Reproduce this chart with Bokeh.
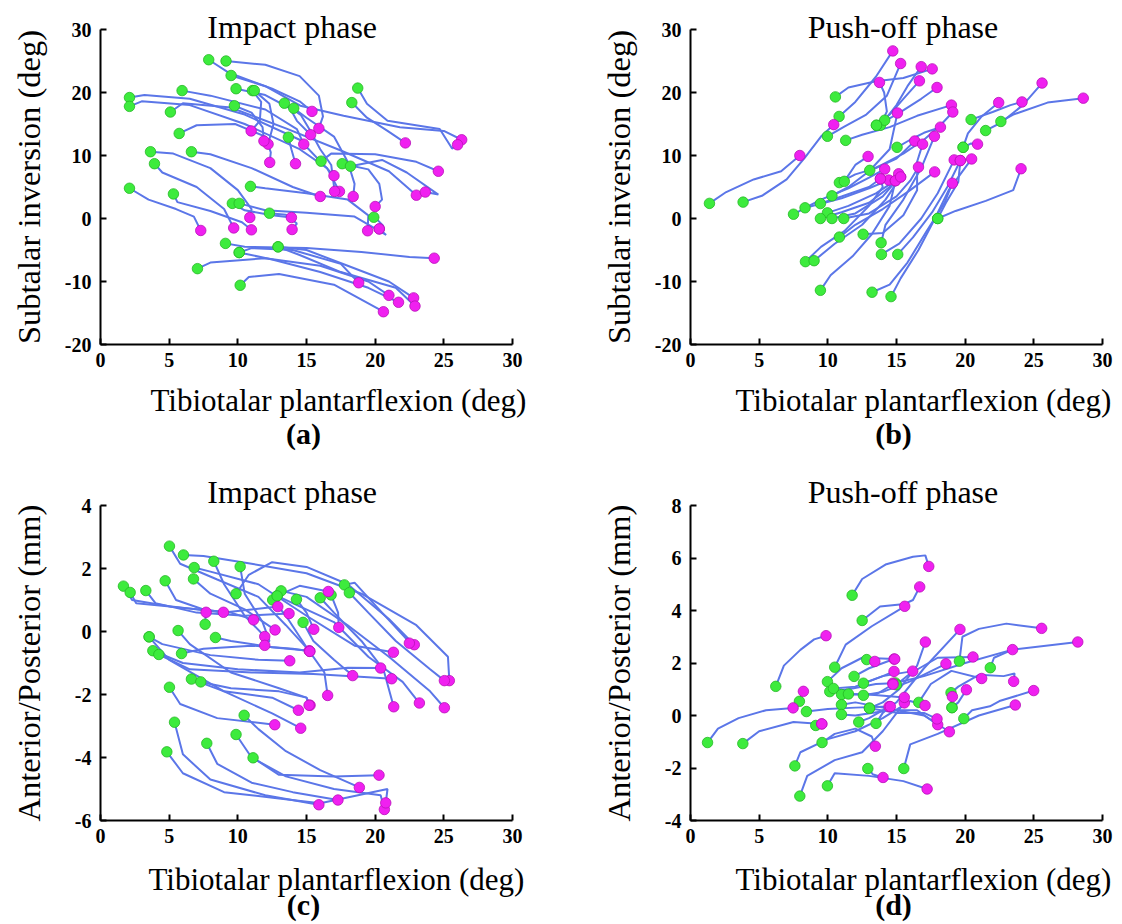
import math
from bokeh.plotting import figure
from bokeh.layouts import column, row
from bokeh.models import Label, FixedTicker, Range1d
from bokeh.embed import file_html
from bokeh.resources import INLINE

SERIF = "Liberation Serif"
LINE = "#5B76E8"
GREEN = "#3DEB3D"
GREEN_EDGE = "#25B825"
MAGENTA = "#F020F0"
MAGENTA_EDGE = "#B810B8"

X_TICKS = [0, 5, 10, 15, 20, 25, 30]
ANGLE_TICKS = [-20, -10, 0, 10, 20, 30]
AP_TICKS_C = [-6, -4, -2, 0, 2, 4]
AP_TICKS_D = [-4, -2, 0, 2, 4, 6, 8]

# ---------------- (a) Impact phase, subtalar inversion ----------------
A_X = [
    [7.88, 9.3, 12.5, 14.5, 15.4],
    [9.14, 12.0, 14.5, 15.9, 16.2, 15.9],
    [9.51, 12.0, 14.55, 17.7, 21.8, 25.0, 26.3],
    [18.73, 19.4, 20.9, 24.7, 25.6, 26.0],
    [18.3, 19.4, 20.9, 22.2],
    [9.87, 12.0, 13.8, 14.3, 15.3],
    [11.06, 11.7, 11.6, 10.97],
    [11.2, 12.3, 12.6, 12.2],
    [9.75, 11.0, 11.8, 11.9],
    [5.73, 7.0, 9.8, 12.0, 12.4, 12.32],
    [5.94, 8.0, 12.0, 14.3, 14.8],
    [2.11, 3.2, 6.5, 10.5, 14.5, 17.0],
    [2.11, 3.0, 6.5, 10.5, 14.5, 16.5, 17.4],
    [5.09, 6.0, 9.5, 13.5, 17.5, 21.0, 23.0],
    [13.39, 14.6, 15.2, 16.0, 16.8, 17.05],
    [14.07, 15.0, 17.0, 18.0, 18.5, 18.4],
    [13.68, 13.9, 14.2],
    [16.06, 16.8, 20.0, 23.0, 24.6],
    [17.6, 19.5, 20.3, 20.5, 20.0],
    [18.2, 20.5, 22.3, 24.6, 23.65],
    [3.64, 5.3, 8.0, 10.0, 11.0, 10.87],
    [6.62, 8.0, 11.0, 14.0, 16.0],
    [3.93, 4.5, 7.0, 9.0, 9.7],
    [2.11, 3.5, 5.5, 6.8, 7.3],
    [5.31, 5.6, 8.0, 10.3, 10.99],
    [10.92, 12.0, 15.0, 18.0, 19.5, 19.45],
    [9.6, 10.5, 12.5, 13.9],
    [10.1, 12.0, 15.0, 18.5, 20.8, 20.3],
    [12.3, 13.5, 14.3, 13.95],
    [19.9, 20.2, 20.6, 20.3],
    [9.1, 10.5, 15.0, 19.0, 22.5, 24.3],
    [10.1, 11.0, 14.0, 17.5, 18.8],
    [12.93, 15.0, 18.0, 21.0, 22.8],
    [12.93, 14.5, 17.5, 21.5, 22.9],
    [7.06, 8.0, 12.0, 16.0, 19.5, 21.0],
    [10.17, 10.8, 13.0, 17.0, 20.6],
    [10.1, 12.5, 16.0, 19.5, 21.7],
]
A_Y = [
    [25.2, 23.2, 20.6, 18.6, 17.0],
    [25.0, 24.4, 22.6, 19.5, 16.2, 14.3],
    [22.7, 21.0, 17.9, 16.3, 14.5, 13.9, 12.5],
    [20.7, 18.2, 15.5, 14.2, 11.1, 11.7],
    [18.4, 16.0, 13.9, 12.0],
    [20.6, 19.6, 17.5, 15.5, 13.3],
    [20.3, 18.5, 15.5, 13.9],
    [20.3, 18.2, 15.0, 11.8],
    [17.9, 16.8, 14.5, 12.3],
    [13.5, 14.8, 15.0, 13.0, 10.5, 8.9],
    [20.3, 19.5, 17.3, 14.2, 11.8],
    [19.2, 19.6, 19.0, 16.5, 12.5, 6.8],
    [17.8, 18.6, 18.0, 15.0, 11.0, 8.0, 4.3],
    [16.9, 18.3, 17.6, 14.3, 10.8, 7.5, 3.7],
    [18.3, 16.4, 14.2, 11.0, 8.5, 4.3],
    [17.5, 16.0, 13.0, 9.0, 5.5, 3.5],
    [12.9, 11.0, 8.7],
    [9.1, 10.3, 10.2, 9.0, 7.5],
    [8.7, 7.8, 5.5, 3.0, 1.9],
    [8.3, 9.3, 7.3, 3.8, 4.2],
    [10.6, 10.3, 8.0, 4.5, 1.5, 0.16],
    [10.6, 10.2, 8.0, 5.0, 3.5],
    [8.7, 7.3, 5.0, 1.5, -1.5],
    [4.8, 3.0, 1.5, 0.3, -1.9],
    [3.9, 2.6, 1.2, -0.6, -1.8],
    [5.1, 4.8, 4.0, 3.0, 0.5, -1.95],
    [2.4, 1.3, 0.5, 0.16],
    [2.4, 1.3, 0.9, 0.3, -2.6, -1.65],
    [0.84, 0.6, -0.8, -1.75],
    [0.2, -0.3, -1.2, -1.65],
    [-3.95, -4.5, -4.7, -5.3, -6.1, -6.3],
    [-5.4, -4.7, -5.0, -7.2, -10.2],
    [-4.5, -5.0, -7.5, -10.0, -12.6],
    [-4.5, -5.8, -8.5, -11.0, -13.9],
    [-7.96, -7.0, -6.3, -7.5, -10.0, -12.2],
    [-10.6, -9.3, -8.8, -10.5, -14.8],
    [-5.4, -6.5, -8.5, -11.0, -13.3],
]

# ---------------- (b) Push-off phase, subtalar inversion ----------------
B_X = [
    [1.38, 2.6, 4.6, 6.6, 7.96],
    [3.83, 5.2, 7.0, 8.3, 9.5, 10.43],
    [10.55, 11.5, 13.5, 15.5, 17.6],
    [10.82, 12.0, 13.5, 14.73],
    [9.97, 11.2, 12.8, 14.3, 15.3],
    [11.3, 12.5, 14.5, 16.5, 19.0],
    [13.83, 14.3, 14.1, 13.76],
    [14.14, 15.0, 15.8, 16.8],
    [13.54, 14.5, 15.5, 16.67],
    [15.04, 16.0, 17.0, 18.2],
    [13.05, 14.0, 15.5, 17.0, 18.2, 19.1],
    [10.3, 11.5, 13.0, 14.5, 15.07],
    [10.84, 12.0, 13.5, 15.0, 16.33],
    [11.2, 12.0, 12.93],
    [8.34, 9.5, 11.5, 13.0, 14.14],
    [9.46, 11.0, 13.0, 13.83],
    [7.5, 8.5, 11.0, 13.0, 14.44],
    [9.97, 11.5, 13.5, 14.92],
    [9.46, 11.0, 13.0, 14.5, 15.3],
    [10.3, 12.0, 14.0, 15.0, 15.16],
    [11.16, 13.0, 15.0, 16.0, 16.6],
    [10.84, 12.0, 14.0, 16.0, 17.78],
    [12.57, 14.0, 15.5, 16.5, 16.5, 16.9],
    [13.88, 14.2, 15.5, 16.8, 17.76],
    [13.9, 15.2, 16.8, 18.0, 19.2],
    [15.09, 16.2, 17.6, 18.7, 19.65],
    [14.6, 15.3, 16.6, 17.8, 18.8, 20.47],
    [13.22, 14.5, 15.8, 17.2, 18.5, 19.07],
    [9.46, 10.2, 11.8, 13.2, 14.5, 14.92],
    [8.37, 9.5, 11.2, 13.0, 14.0, 13.83],
    [9.0, 10.5, 12.5, 14.2, 15.3],
    [18.0, 19.3, 21.5, 23.5, 24.07],
    [18.0, 18.6, 19.5, 19.65],
    [19.85, 20.2, 21.2, 22.44],
    [19.85, 20.4, 20.9],
    [20.43, 22.0, 23.3, 24.14],
    [21.49, 22.6, 24.2, 25.6],
    [22.6, 23.5, 26.0, 28.6],
    [13.54, 15.0, 16.8, 17.95],
]
B_Y = [
    [2.4, 4.2, 6.2, 7.5, 10.0],
    [2.6, 3.6, 6.2, 9.6, 13.0, 14.9],
    [19.3, 20.8, 21.8, 22.3, 23.75],
    [16.2, 18.5, 22.5, 26.6],
    [13.05, 14.6, 16.5, 19.5, 24.6],
    [12.4, 13.3, 14.5, 16.3, 18.0],
    [14.8, 17.0, 20.0, 21.6],
    [15.6, 18.0, 21.0, 24.1],
    [14.8, 16.5, 19.0, 21.85],
    [11.3, 12.5, 13.6, 14.5],
    [7.64, 8.6, 10.3, 12.5, 14.8, 16.9],
    [3.6, 5.0, 7.5, 11.0, 16.75],
    [5.7, 7.0, 8.0, 9.5, 12.3],
    [5.9, 8.5, 9.85],
    [1.7, 3.0, 4.8, 6.5, 7.85],
    [2.37, 3.5, 5.0, 6.3],
    [0.68, 1.8, 3.2, 4.8, 6.1],
    [0.9, 2.0, 4.0, 6.0],
    [0.0, 1.0, 2.5, 5.0, 6.6],
    [0.0, 0.8, 3.5, 6.0, 7.1],
    [0.0, 0.8, 3.5, 6.0, 8.16],
    [-2.95, -1.0, 1.5, 4.5, 7.4],
    [-2.5, -2.3, 0.5, 4.5, 9.0, 11.8],
    [-3.85, -1.0, 3.0, 8.0, 13.05],
    [-5.7, -4.0, 0.0, 4.0, 9.3],
    [-5.7, -3.0, 1.0, 5.0, 9.2],
    [-12.4, -9.5, -5.0, 0.0, 4.5, 9.45],
    [-11.7, -10.5, -7.0, -2.0, 2.5, 5.6],
    [-11.4, -9.0, -6.0, -2.5, 2.0, 6.0],
    [-6.85, -4.5, -2.0, 2.0, 5.0, 6.3],
    [-6.7, -4.0, -1.0, 3.0, 6.6],
    [0.0, 1.2, 2.8, 4.5, 7.9],
    [0.0, 2.5, 5.8, 9.2],
    [11.3, 13.5, 16.2, 18.4],
    [11.3, 11.9, 11.8],
    [15.7, 16.9, 18.0, 18.5],
    [13.96, 15.2, 18.0, 21.5],
    [15.4, 16.5, 18.4, 19.1],
    [14.8, 16.5, 19.0, 20.8],
]

# ---------------- (c) Impact phase, anterior/posterior ----------------
C_X = [
    [5.02, 5.8, 8.5, 11.5, 13.5, 15.24],
    [6.04, 7.5, 11.0, 15.0, 19.0, 23.0, 25.3, 25.4],
    [6.82, 8.0, 11.5, 15.0, 18.5, 21.33],
    [8.25, 9.0, 10.5, 11.96],
    [10.17, 10.5, 11.8, 12.3, 11.96],
    [9.87, 10.8, 12.5, 15.0, 18.0, 21.0, 22.85],
    [17.76, 18.5, 20.5, 22.2, 22.49],
    [18.12, 19.5, 21.5, 24.0, 25.04],
    [16.0, 17.0, 19.0, 20.6, 21.35],
    [16.79, 17.3, 17.35],
    [12.86, 14.5, 17.0, 19.5, 22.0, 23.22],
    [13.15, 15.0, 18.0, 21.0, 24.0, 25.04],
    [12.54, 13.5, 15.0, 16.3, 16.54],
    [14.27, 15.0, 15.53],
    [14.75, 15.5, 17.0, 18.36],
    [4.71, 5.5, 7.5, 8.95],
    [6.77, 8.0, 10.5, 12.71],
    [1.67, 2.3, 5.0, 9.0, 12.91],
    [2.16, 2.6, 6.0, 9.5, 11.14],
    [3.3, 4.0, 7.0, 10.5, 13.73],
    [7.62, 7.65, 7.69],
    [3.54, 4.5, 8.0, 11.5, 13.78],
    [5.65, 6.5, 9.5, 13.0, 15.0, 15.26],
    [8.37, 9.5, 12.5, 15.2],
    [3.81, 6.0, 10.0, 14.5, 18.0, 20.4],
    [4.25, 6.5, 11.0, 15.5, 19.5, 21.2],
    [5.9, 7.5, 11.0, 14.0, 15.24],
    [6.62, 9.0, 12.5, 14.41],
    [7.3, 9.5, 13.0, 15.0, 15.19],
    [5.02, 5.8, 8.5, 12.69],
    [10.46, 11.5, 13.5, 16.0, 18.85],
    [5.39, 6.0, 8.0, 12.0, 15.9],
    [9.87, 11.0, 13.5, 17.0, 20.4, 20.67],
    [7.74, 8.5, 11.0, 14.0, 17.29],
    [4.83, 6.0, 9.0, 13.0, 16.0, 20.9, 20.77],
    [11.11, 13.0, 17.0, 20.28],
    [12.86, 14.5, 16.59],
    [3.54, 5.0, 9.0, 12.5, 14.58],
]
C_Y = [
    [2.71, 2.15, 1.65, 1.1, 0.2, -0.63],
    [2.43, 2.4, 2.15, 1.85, 1.2, 0.2, -0.8, -1.56],
    [2.03, 1.9, 1.5, 0.5, -0.45, -0.66],
    [2.23, 1.5, 0.5, -0.16],
    [2.06, 1.2, 0.3, -0.3, -0.44],
    [1.2, 1.8, 2.2, 2.05, 1.5, 0.4, -0.42],
    [1.48, 1.55, 0.6, -0.2, -0.37],
    [1.23, 0.6, -0.3, -1.2, -1.56],
    [1.07, 0.6, -0.3, -1.2, -2.39],
    [1.16, 0.6, 0.13],
    [1.13, 0.8, 0.3, -0.8, -1.6, -2.27],
    [1.29, 1.1, 0.2, -0.8, -1.9, -2.42],
    [1.0, 0.5, -0.5, -1.3, -2.03],
    [1.02, 0.6, 0.07],
    [0.29, -0.3, -0.9, -1.4],
    [1.61, 1.0, 0.7, 0.61],
    [1.67, 1.2, 0.7, 0.05],
    [1.44, 1.0, 0.8, 0.6, 0.79],
    [1.24, 0.9, 0.75, 0.6, 0.37],
    [1.3, 0.9, 0.6, 0.5, 0.57],
    [0.23, 0.45, 0.61],
    [-0.17, -0.4, -0.75, -0.9, -0.93],
    [0.03, -0.4, -1.3, -1.8, -2.1, -2.34],
    [-0.19, -0.3, -0.5, -0.61],
    [-0.61, -1.0, -1.2, -1.3, -1.15, -1.16],
    [-0.73, -1.2, -1.3, -1.35, -1.45, -1.5],
    [-0.7, -0.55, -0.45, -0.55, -0.63],
    [-1.51, -1.9, -2.1, -2.5],
    [-1.6, -1.8, -1.9, -2.1, -2.34],
    [-1.77, -2.3, -2.75, -2.96],
    [-2.66, -3.1, -3.8, -4.4, -4.95],
    [-2.88, -3.9, -4.7, -5.2, -5.5],
    [-3.27, -4.0, -4.6, -5.0, -5.2, -5.65],
    [-3.55, -4.2, -4.8, -5.1, -5.35],
    [-3.82, -4.5, -5.1, -5.3, -5.45, -5.0, -5.44],
    [-4.01, -4.55, -4.6, -4.56],
    [1.13, 1.45, 1.27],
    [-0.17, -0.9, -1.9, -2.6, -3.07],
]

# ---------------- (d) Push-off phase, anterior/posterior ----------------
D_X = [
    [11.77, 12.5, 14.2, 16.2, 17.1, 17.35],
    [12.5, 13.8, 15.6, 16.2, 16.69],
    [10.5, 11.3, 13.2, 15.6],
    [6.21, 6.8, 8.0, 9.0, 9.87],
    [1.24, 2.0, 3.5, 5.5, 7.47],
    [3.81, 5.0, 7.5, 9.56],
    [8.44, 10.0, 12.0, 14.46],
    [7.93, 8.05, 8.22],
    [9.58, 10.5, 12.0, 13.2, 13.46],
    [7.6, 8.0, 10.0, 12.0, 14.0, 16.0, 17.08],
    [7.96, 8.5, 10.5, 12.5, 14.0, 15.57],
    [9.97, 10.5, 13.0, 15.5, 17.23],
    [12.91, 13.3, 14.02],
    [15.53, 16.0, 18.0, 21.0, 23.65],
    [19.9, 20.5, 21.8, 22.5, 24.99],
    [19.58, 19.8, 21.0, 23.0, 25.57],
    [21.83, 22.1, 23.45],
    [14.92, 17.0, 20.0, 23.45, 28.2],
    [18.97, 19.5, 21.0, 22.8, 23.6, 23.53],
    [19.04, 19.5, 20.09],
    [16.62, 17.5, 19.0, 21.2],
    [12.83, 13.1, 13.42],
    [11.91, 13.0, 14.82],
    [12.59, 14.0, 16.18],
    [9.97, 11.0, 12.5, 14.87],
    [10.14, 11.5, 13.5, 14.73],
    [10.41, 12.0, 14.0, 14.82],
    [11.0, 13.0, 15.57],
    [11.5, 13.5, 14.75],
    [12.59, 14.0, 16.0, 18.6],
    [10.99, 12.0, 14.0, 17.0, 18.85],
    [10.99, 12.0, 14.5, 16.5, 18.0],
    [13.03, 14.0, 15.2, 16.5, 17.1],
    [12.25, 13.0, 15.0, 17.0, 19.62],
    [13.51, 14.0, 14.55],
    [9.12, 9.3, 9.56],
    [14.99, 16.0, 18.0, 20.57],
    [19.04, 19.0, 19.07],
    [13.03, 15.0, 17.0, 17.95],
]
D_Y = [
    [4.58, 5.2, 5.75, 6.05, 6.1, 5.68],
    [3.62, 4.15, 4.25, 4.4, 4.9],
    [1.84, 2.7, 3.4, 4.16],
    [1.11, 1.9, 2.5, 2.9, 3.04],
    [-1.03, -0.5, -0.1, 0.2, 0.29],
    [-1.07, -0.6, -0.25, -0.32],
    [0.15, 0.25, 0.3, 0.34],
    [0.54, 0.75, 0.92],
    [-1.03, -0.7, -0.5, -0.8, -1.17],
    [-1.92, -1.4, -0.9, -0.6, -0.1, 0.55, 0.38],
    [-3.07, -2.3, -1.7, -1.4, -0.6, 0.48],
    [-2.68, -2.2, -2.3, -2.5, -2.8],
    [-2.02, -2.25, -2.36],
    [-2.02, -1.1, -0.7, 0.0, 0.4],
    [-0.12, 0.2, 0.35, 0.55, 0.95],
    [2.07, 3.0, 3.3, 3.5, 3.32],
    [1.82, 2.2, 2.51],
    [1.24, 1.5, 2.0, 2.51, 2.8],
    [0.87, 1.1, 1.55, 1.5, 1.6, 1.3],
    [0.3, 0.5, 0.98],
    [0.5, 1.2, 1.7, 1.41],
    [2.13, 2.15, 2.06],
    [1.49, 1.8, 2.15],
    [1.23, 1.5, 1.69],
    [1.29, 1.8, 2.2, 2.15],
    [0.91, 1.0, 1.2, 1.23],
    [1.03, 1.1, 1.5, 1.68],
    [0.8, 0.8, 0.69],
    [0.82, 0.8, 1.19],
    [0.77, 0.9, 1.3, 1.97],
    [0.41, 0.5, 0.3, 0.0, -0.62],
    [0.04, 0.0, 0.2, 0.2, -0.35],
    [0.28, 0.5, 1.0, 1.9, 2.8],
    [-0.25, -0.1, 0.5, 1.8, 3.28],
    [-0.3, 0.1, 0.34],
    [-0.38, -0.35, -0.32],
    [1.17, 1.6, 2.2, 2.23],
    [0.3, 0.6, 0.72],
    [0.28, 0.1, 0.1, -0.13],
]

X_LABEL = "Tibiotalar plantarflexion (deg)"
BASELINE_FIX = 10  # Bokeh places alphabetic-baseline labels this many px low


def panel(xs, ys, yr, yticks, fig_box, frame_box, title, title_cx, ylab, sub, row_top,
          xlab_left):
    """fig_box / frame_box are page-pixel boxes (left, top, width, height)."""
    fl, ft, fw, fh = fig_box
    rl, rt, rw, rh = frame_box
    x0, x1 = 0.0, 30.0
    y0, y1 = yr

    def dx(px):
        return x0 + (px - rl) / rw * (x1 - x0)

    def dy(py):
        return y1 - (py - rt) / rh * (y1 - y0)

    p = figure(width=fw, height=fh,
               x_range=Range1d(dx(fl), dx(fl + fw)), y_range=Range1d(dy(ft + fh), dy(ft)),
               output_backend="svg", toolbar_location=None, title=None,
               min_border=0, min_border_left=0, min_border_right=0,
               min_border_top=0, min_border_bottom=0)
    p.outline_line_color = None
    p.grid.visible = False
    p.background_fill_color = "white"
    p.border_fill_color = "white"

    p.xaxis.fixed_location = y0
    p.xaxis.bounds = (x0, x1)
    p.yaxis.fixed_location = x0
    p.yaxis.bounds = (y0, y1)
    for ax, ticks in ((p.xaxis, X_TICKS), (p.yaxis, yticks)):
        ax.ticker = FixedTicker(ticks=ticks)
        ax.major_label_overrides = {t: str(t) for t in ticks}
        ax.axis_line_width = 2
        ax.axis_line_color = "black"
        ax.major_tick_in = 6
        ax.major_tick_out = 0
        ax.major_tick_line_width = 2
        ax.minor_tick_in = 0
        ax.minor_tick_out = 0
        ax.major_label_text_font = SERIF
        ax.major_label_text_font_style = "bold"
        ax.major_label_text_font_size = "20px"
        ax.major_label_text_color = "black"
    p.xaxis.major_label_standoff = 8
    p.yaxis.major_label_standoff = 9

    p.multi_line(xs=xs, ys=ys, line_color=LINE, line_width=2)
    p.scatter([c[0] for c in xs], [c[0] for c in ys], size=10.5, fill_color=GREEN,
              line_color=GREEN_EDGE, line_width=0.8)
    p.scatter([c[-1] for c in xs], [c[-1] for c in ys], size=10.5, fill_color=MAGENTA,
              line_color=MAGENTA_EDGE, line_width=0.8)

    def txt(px, py, text, size, bold=False, angle=0.0, align="center", baseline="alphabetic"):
        if baseline == "alphabetic":
            py -= BASELINE_FIX
        p.add_layout(Label(x=dx(px), y=dy(py), text=text, text_font=SERIF,
                           text_font_size=size,
                           text_font_style="bold" if bold else "normal",
                           text_align=align, text_baseline=baseline, angle=angle,
                           text_color="black"))

    bottom = rt + rh
    title_base = rt + 7.7 if row_top else rt - 3.3
    txt(title_cx, title_base, title, "32px")
    txt(rl - 72, rt + rh / 2, ylab, "32.5px", angle=math.pi / 2, baseline="middle")
    txt(xlab_left, bottom + (66 if row_top else 69), X_LABEL, "31px", align="left")
    txt(rl + 203, bottom + (99 if row_top else 94), sub, "30px", bold=True)
    return p


ROW1_H = 470
ROW2_H = 454
LEFT_W = 569
RIGHT_W = 553

pa = panel(A_X, A_Y, (-20, 30), ANGLE_TICKS, (0, 0, LEFT_W, ROW1_H), (100, 29, 412, 315),
           "Impact phase", 291.7, "Subtalar inversion (deg)", "(a)", True, 150)
pb = panel(B_X, B_Y, (-20, 30), ANGLE_TICKS, (LEFT_W, 0, RIGHT_W, ROW1_H), (690, 29, 412, 315),
           "Push-off phase", 902.5, "Subtalar inversion (deg)", "(b)", True, 735)
pc = panel(C_X, C_Y, (-6, 4), AP_TICKS_C, (0, ROW1_H, LEFT_W, ROW2_H), (100, 505, 412, 315),
           "Impact phase", 291.7, "Anterior/Posterior (mm)", "(c)", False, 148)
pd = panel(D_X, D_Y, (-4, 8), AP_TICKS_D, (LEFT_W, ROW1_H, RIGHT_W, ROW2_H), (690, 505, 412, 315),
           "Push-off phase", 902.5, "Anterior/Posterior (mm)", "(d)", False, 735)

layout = column(row(pa, pb), row(pc, pd))
open("out.html", "w").write(file_html(layout, INLINE))
